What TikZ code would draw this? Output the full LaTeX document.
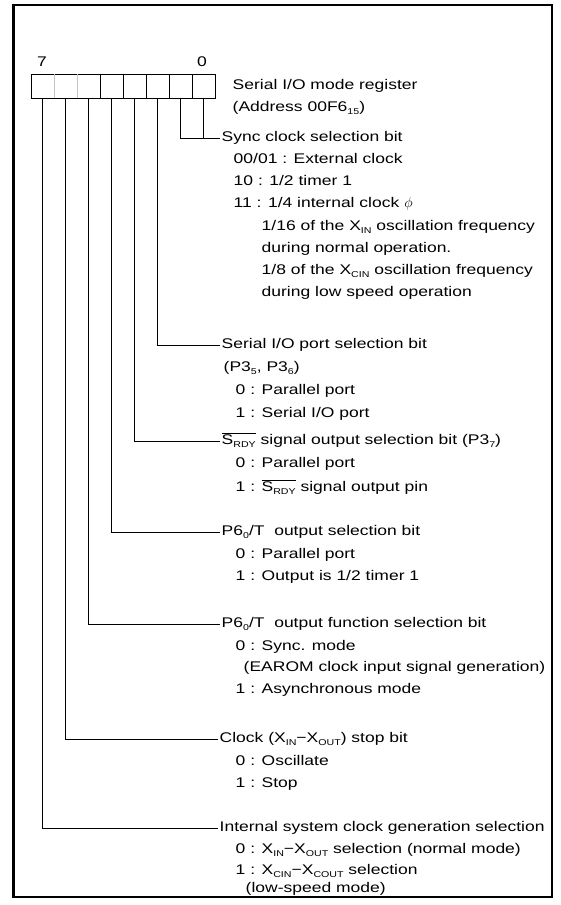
\documentclass[tikz,border=0pt]{standalone}
\usepackage{fontspec}
\setmainfont{Liberation Sans}[FakeStretch=1.25]
\newcommand\lo[1]{\raisebox{-0.35ex}{\fontsize{8.5pt}{8.5pt}\selectfont #1}}
\newcommand\srdy{$\overline{\mbox{S\lo{RDY}}}$}
\begin{document}
\begin{tikzpicture}[x=1pt,y=-1pt,
  txt/.style={anchor=west, inner xsep=1.5pt, inner ysep=0pt, text height=10pt, text depth=3pt, font=\fontsize{14pt}{16pt}\selectfont},
  cell/.style={minimum width=23pt, minimum height=24pt, inner sep=0pt, outer sep=0pt},
  conn/.style={line width=0.6pt},
  frame/.style={line width=2.8pt}]
\useasboundingbox (0,0) rectangle (561,905);
\draw[frame] (13.5,5) rectangle (552,897);
% register cells
\foreach \i/\x in {7/42.5,6/65.5,5/88.5,4/111.5,3/134.5,2/157.5,1/180.5,0/203.5}
  \node[cell] (c\i) at (\x,86) {};
\draw[line width=0.9pt] (c7.north west) rectangle (c0.south east);
\foreach \i in {5,4,3,2,1}
  \draw[line width=0.7pt] (c\i.north east) -- (c\i.south east);
\foreach \i in {7,6}
  \draw[line width=0.5pt, gray!45] (c\i.north east) -- (c\i.south east);
\node[txt, anchor=center] (n7) at (42,63) {7};
\node[txt, anchor=center] (n0) at (202,63) {0};
% texts
\node[txt] (reg)  at (231,86)  {Serial I/O mode register};
\node[txt] (addr) at (231,108) {(Address 00F6\lo{15})};
\node[txt] (sync) at (220,138) {Sync clock selection bit};
\node[txt] (s1) at (232,160) {00/01 : External clock};
\node[txt] (s2) at (232,182) {10 : 1/2 timer 1};
\node[txt] (s3) at (232,204) {11 : 1/4 internal clock $\phi$};
\node[txt] (s4) at (260,227) {1/16 of the X\lo{IN} oscillation frequency};
\node[txt] (s5) at (260,249) {during normal operation.};
\node[txt] (s6) at (260,271) {1/8 of the X\lo{CIN} oscillation frequency};
\node[txt] (s7) at (260,293) {during low speed operation};
\node[txt] (sio)  at (220,345) {Serial I/O port selection bit};
\node[txt] (sio1) at (222,368) {(P3\lo{5}, P3\lo{6})};
\node[txt] (sio2) at (234,391) {0 : Parallel port};
\node[txt] (sio3) at (234,414) {1 : Serial I/O port};
\node[txt] (rdy)  at (220,441) {\srdy\ signal output selection bit (P3\lo{7})};
\node[txt] (rdy1) at (234,464) {0 : Parallel port};
\node[txt] (rdy2) at (234,488) {1 : \srdy\ signal output pin};
\node[txt] (p6)  at (220,532) {P6\lo{0}/T\ \ output selection bit};
\node[txt] (p61) at (234,555) {0 : Parallel port};
\node[txt] (p62) at (234,577) {1 : Output is 1/2 timer 1};
\node[txt] (pf)  at (220,624) {P6\lo{0}/T\ \ output function selection bit};
\node[txt] (pf1) at (234,647) {0 : Sync. mode};
\node[txt] (pf2) at (242,668) {(EAROM clock input signal generation)};
\node[txt] (pf3) at (234,690) {1 : Asynchronous mode};
\node[txt] (clk)  at (218,739) {Clock (X\lo{IN}−X\lo{OUT}) stop bit};
\node[txt] (clk1) at (234,762) {0 : Oscillate};
\node[txt] (clk2) at (234,784) {1 : Stop};
\node[txt] (isc)  at (218,828) {Internal system clock generation selection};
\node[txt] (isc1) at (234,850) {0 : X\lo{IN}−X\lo{OUT} selection (normal mode)};
\node[txt] (isc2) at (234,871) {1 : X\lo{CIN}−X\lo{COUT} selection};
\node[txt] (isc3) at (244,889) {(low-speed mode)};
% connectors
\draw[conn] (c0.south) |- (sync.west);
\draw[conn] (c1.south) |- (c0.south |- sync.west);
\draw[conn] (c2.south) |- (sio.west);
\draw[conn] (c3.south) |- (rdy.west);
\draw[conn] (c4.south) |- (p6.west);
\draw[conn] (c5.south) |- (pf.west);
\draw[conn] (c6.south) |- (clk.west);
\draw[conn] (c7.south) |- (isc.west);
\end{tikzpicture}
\end{document}
